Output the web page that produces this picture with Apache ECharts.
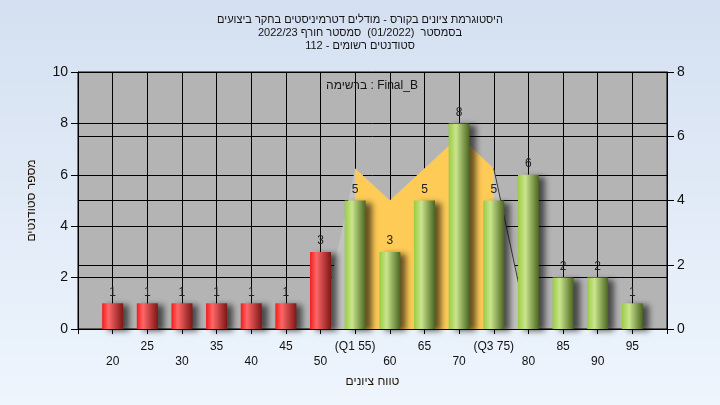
<!DOCTYPE html>
<html>
<head>
<meta charset="utf-8">
<script src="https://cdn.jsdelivr.net/npm/echarts@6/dist/echarts.min.js"></script>
<style>html,body{margin:0;padding:0;}#c{width:720px;height:405px;}</style>
</head>
<body>
<div id="c"></div>
<script>
const titleLines = [
  'היסטוגרמת ציונים בקורס - מודלים דטרמיניסטים בחקר ביצועים',
  'בסמסטר  (01/2022)  סמסטר חורף 2022/23',
  'סטודנטים רשומים - 112'
];
const listLabel = 'ברשימה : Final_B';
const yName = 'מספר סטודנטים';
const xName = 'טווח ציונים';
const categories = [20, 25, 30, 35, 40, 45, 50, 55, 60, 65, 70, 75, 80, 85, 90, 95];
const counts = [1, 1, 1, 1, 1, 1, 3, 5, 3, 5, 8, 5, 6, 2, 2, 1];
const tickLabels = ['20', '25', '30', '35', '40', '45', '50', '(Q1 55)', '60', '65', '70', '(Q3 75)', '80', '85', '90', '95'];
const curveX = [50, 55, 60, 65, 70, 75, 80];
const curveY = [0, 5, 4, 5, 6, 5, 0];
const iqrX = [55, 60, 65, 70, 75];
const iqrY = [5, 4, 5, 6, 5];
const passMark = 55;

const G = echarts.graphic.LinearGradient;
const redGrad = new G(0, 0, 1, 0, [
  {offset: 0, color: '#f21c1c'}, {offset: 0.3, color: '#ff6666'}, {offset: 1, color: '#7e1616'}
]);
const greenGrad = new G(0, 0, 1, 0, [
  {offset: 0, color: '#9ccb44'}, {offset: 0.35, color: '#c9e58d'}, {offset: 1, color: '#4a6520'}
]);

const barData = categories.map((c, i) => ({
  value: [c, counts[i]],
  itemStyle: {color: c < passMark ? redGrad : greenGrad}
}));
const curveData = curveX.map((x, i) => [x, curveY[i]]);
const iqrData = iqrX.map((x, i) => [x, iqrY[i]]);
const edgeData = curveData.slice(-2);

const font = '"Liberation Sans", Arial, sans-serif';
const chart = echarts.init(document.getElementById('c'));
chart.setOption({
  animation: false,
  backgroundColor: new G(0, 0, 0, 1, [{offset: 0, color: '#d4e0f1'}, {offset: 1, color: '#eef5fd'}]),
  textStyle: {fontFamily: font},
  title: {
    text: titleLines.join('\n'),
    left: 'center', top: 8,
    textStyle: {fontSize: 11, fontWeight: 'normal', lineHeight: 13, color: '#151515', fontFamily: font}
  },
  graphic: [{
    type: 'text', x: 372, y: 86, z: 100,
    style: {text: listLabel, align: 'center', verticalAlign: 'middle', fontSize: 12, fill: '#151515', fontFamily: font}
  }],
  grid: {left: 78, right: 53, top: 72, bottom: 76, show: true, backgroundColor: '#b4b4b4', borderColor: '#000', borderWidth: 1},
  xAxis: {
    type: 'value', min: 15, max: 100, interval: 5,
    name: xName, nameLocation: 'middle', nameGap: 47,
    nameTextStyle: {fontSize: 12, color: '#1e1400', fontFamily: font},
    axisLine: {show: true, lineStyle: {color: '#000'}},
    axisTick: {show: true, length: 5, lineStyle: {color: '#000'}},
    splitLine: {show: true, lineStyle: {color: '#000', width: 1}},
    axisLabel: {
      margin: 10, fontSize: 12, color: '#111', lineHeight: 15, fontFamily: font,
      showMinLabel: true, showMaxLabel: true,
      formatter: v => {
        const i = categories.indexOf(v);
        if (i < 0) return '';
        return i % 2 === 0 ? '\n' + tickLabels[i] : tickLabels[i];
      }
    }
  },
  yAxis: [{
    type: 'value', min: 0, max: 10, interval: 2, position: 'left',
    name: yName, nameLocation: 'middle', nameGap: 40,
    nameTextStyle: {fontSize: 12, color: '#1e1400', fontFamily: font},
    axisLine: {show: true, lineStyle: {color: '#000'}},
    axisTick: {show: true, length: 7, lineStyle: {color: '#000'}},
    axisLabel: {margin: 10, fontSize: 14, color: '#111', fontFamily: font},
    splitLine: {show: true, lineStyle: {color: '#000', width: 1}}
  }, {
    type: 'value', min: 0, max: 8, interval: 2, position: 'right',
    axisLine: {show: true, lineStyle: {color: '#000'}},
    axisTick: {show: true, length: 7, lineStyle: {color: '#000'}},
    axisLabel: {margin: 10, fontSize: 14, color: '#111', fontFamily: font},
    splitLine: {show: true, lineStyle: {color: '#000', width: 1}}
  }],
  series: [{
    type: 'line', yAxisIndex: 1, data: curveData, symbol: 'none', z: 1,
    lineStyle: {width: 0}, areaStyle: {color: '#c2c2c2', opacity: 1}
  }, {
    type: 'line', yAxisIndex: 1, data: iqrData, symbol: 'none', z: 1,
    lineStyle: {width: 0}, areaStyle: {color: '#ffcb57', opacity: 1}
  }, {
    type: 'line', yAxisIndex: 1, data: edgeData, symbol: 'none', z: 1,
    lineStyle: {width: 1, color: '#3a3a3a'}
  }, {
    type: 'bar', yAxisIndex: 0, data: barData, barWidth: 21, z: 3,
    itemStyle: {shadowColor: 'rgba(0,0,0,0.6)', shadowBlur: 6, shadowOffsetX: 6, shadowOffsetY: 2},
    label: {show: true, position: 'top', distance: 5, fontSize: 12, color: '#222', fontFamily: font,
      formatter: p => p.value[1]}
  }]
});
</script>
</body>
</html>
